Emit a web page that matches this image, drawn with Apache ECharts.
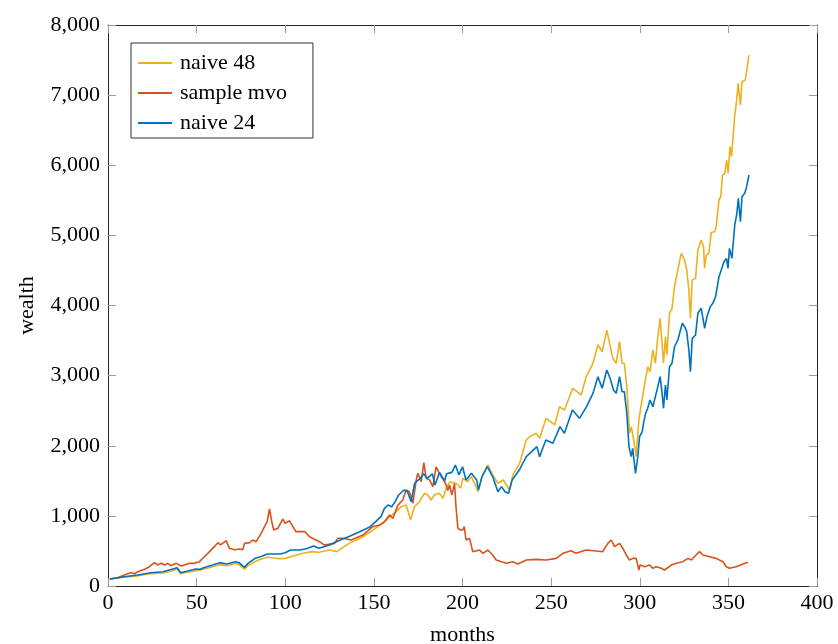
<!DOCTYPE html>
<html>
<head>
<meta charset="utf-8">
<script src="https://cdn.jsdelivr.net/npm/echarts@6/dist/echarts.min.js"></script>
<style>
html,body{margin:0;padding:0;background:#fff;}
#chart{width:838px;height:644px;}
</style>
</head>
<body>
<div id="chart"></div>
<script>
// ---- data ----
var seriesNames = ['naive 48', 'sample mvo', 'naive 24'];
var xTicks = [0, 50, 100, 150, 200, 250, 300, 350, 400];
var yTicks = [0, 1000, 2000, 3000, 4000, 5000, 6000, 7000, 8000];

var naive48Months = [1,9,17,24,31,36,39,41,45,49,54,59,63,67,72,74,77,79,83,86,90,94,97,100,105,110,115,119,125,129,136,144,149,155,159,162.6,165.4,168.2,170.7,172.9,175.7,178.5,180.4,182.3,184.2,187,189,190.8,192.7,194.5,197,199,200.2,203,204.9,207.7,208.6,211,214.3,217,220,223,226.5,228.4,232.2,236,237.9,241.6,243.5,247.2,252,254.7,257.5,262.2,266.9,269.8,273.6,276.4,278.8,281.4,283,284.8,286.7,288.6,290,291.3,292.7,294.2,295.2,296.6,298,299.5,300.8,301.7,302.7,304.5,305.8,307.4,308.8,310.2,311.5,313.4,314.5,315.3,316.8,318.2,319.6,321.5,323.4,325.3,326.5,327.7,328.6,329.6,331.5,332.8,334.7,336,336.6,337.5,339,340.3,342.2,343.1,344.7,345.7,346.7,348,349,349.9,350.9,351.8,352.8,353.6,354.6,355.5,356.8,357.7,359.5,360.4,361.6];
var naive48Values = [100,125,145,175,185,215,240,175,195,215,240,275,305,290,320,305,238,290,350,380,410,400,390,394,430,466,490,480,513,490,608,703,789,894,989,1060,1131,1155,941,1131,1202,1322,1298,1226,1300,1322,1250,1393,1480,1480,1450,1393,1536,1488,1560,1417,1345,1560,1725,1584,1465,1512,1369,1584,1750,2082,2130,2177,2106,2391,2296,2557,2510,2819,2724,2985,3176,3440,3341,3650,3460,3247,3176,3484,3176,3176,2843,2177,2272,2082,1844,2367,2581,2605,2866,3127,3056,3366,3176,3555,3817,3176,3555,3294,3889,3960,4268,4506,4744,4649,4506,4221,3817,4364,4387,4791,4934,4839,4530,4720,4744,5040,5053,5124,5505,5552,5861,5885,6075,5885,6265,6122,6455,6716,6906,7168,6859,7191,7215,7358,7572];

var mvoMonths = [1,5.5,10.3,13,15,16.8,20.6,23.4,26.2,28,30,32,33.6,35.5,38.5,41.3,43,46,48.6,51.6,53.5,56.3,60,62,63.5,66.7,68.5,71.4,74.2,76,77,79.9,81.7,83.6,86.4,88.3,89.8,91.1,92.4,93.5,95.8,98.6,100,102.4,106,111,113.7,119.3,122,127.8,129.7,132.5,137.2,143.8,149.4,153.2,156,158.8,160.7,163.5,166.3,168.2,170,172,173.9,174.8,176.7,178.2,179.5,181.4,183.3,185.1,187,188,189.8,190.8,191.7,192.7,194,195.5,196.4,197.4,198.8,200.2,201,202,204,205.8,209.6,211.5,214.3,217,219,224.7,228.4,231.2,236,241.6,247.2,252.9,256.6,261.3,264,269.8,275.4,279,282,283.9,285.8,288.6,290.5,292.4,294.2,296.1,298,299.5,300.2,302.7,305.6,307.4,309.3,312.1,314,317.8,320.6,324.3,327.2,329.1,331.8,333.7,335.6,339.4,343.1,346.9,348.8,350.6,354.4,358.2,361];
var mvoValues = [100,118,166,190,175,204,238,275,333,300,323,300,323,290,323,285,300,323,323,347,395,466,561,618,585,646,537,518,527,518,608,618,656,632,751,846,917,1100,917,799,822,955,894,930,775,775,703,632,585,608,680,680,656,727,846,870,917,1012,965,1150,1226,1369,1345,1179,1512,1607,1488,1760,1536,1512,1417,1700,1607,1560,1488,1441,1360,1440,1298,1460,1108,822,799,799,846,656,680,489,513,466,513,442,371,323,347,314,371,380,371,394,466,503,466,513,500,489,608,656,561,608,537,442,371,394,394,228,299,275,299,252,275,252,228,299,323,347,394,371,442,490,442,418,394,347,275,252,275,314,338];

var naive24Months = [1,9,17,24,31,36,39,41,45,49,52,54,59,63,67,72,74,77,79,83,86,90,94,97,100,103,108,112,116,119,125,131,136,142,148,151,154,156,158,160,162,164,167,169,171,173,176,178,180,183,184.5,187,190,191,194,196,198,200,202,205,208,209,211,214,217,220,222,224,226,228,232,236,242,243.5,247,251,255,257.5,262,266,270,273.6,276.4,278.8,281.4,283.3,285.2,286.7,288.6,290,291.3,292.7,293.9,295.2,296,297.6,298.9,299.9,301.4,302.3,303.3,304.5,305.8,307.4,308.8,310.2,311.5,312.6,313.4,314.5,315.3,316.8,318.2,319.6,321.5,324,325.3,326.5,327.7,328.6,329.6,331.5,332.8,334.7,335.6,336.6,337.9,339.8,341.2,342.8,344.7,345.7,347.5,348.9,349.8,350.6,352,353.6,354.8,355.6,356.8,357.7,359.2,360.1,361.6];
var naive24Values = [100,133,157,190,204,238,261,190,214,240,238,260,299,333,314,347,333,266,323,395,418,456,456,456,475,513,513,530,570,537,585,656,705,775,846,917,989,1108,1155,1131,1202,1298,1369,1345,1202,1465,1530,1600,1536,1600,1440,1620,1500,1600,1620,1725,1584,1701,1512,1607,1512,1369,1560,1701,1560,1345,1417,1345,1322,1512,1654,1844,1987,1844,2082,2035,2272,2177,2510,2391,2557,2747,2985,2819,3080,2961,2795,2747,2985,2771,2771,2462,1987,1844,1963,1607,1844,2130,2201,2343,2462,2534,2653,2557,2700,2843,2985,2747,2534,2866,2653,3127,3176,3412,3508,3746,3698,3627,3366,3056,3532,3580,3889,3960,3936,3675,3841,3984,4031,4126,4411,4483,4625,4672,4530,4815,4672,5148,5315,5529,5195,5552,5600,5671,5861];

var colors = ['#EDB120', '#D95319', '#0072BD'];

function pairs(xs, ys) {
  var out = [];
  for (var i = 0; i < xs.length; i++) out.push([xs[i], ys[i]]);
  return out;
}

var FONT = 'Liberation Serif';
var chart = echarts.init(document.getElementById('chart'), null, {renderer: 'canvas'});
var axisLineStyle = {color: '#262626', width: 1};
var tickStyle = {color: '#9a9a9a', width: 1};

var option = {
  animation: false,
  backgroundColor: '#ffffff',
  grid: {left: 108, right: 21, top: 25, bottom: 58, containLabel: false, outerBoundsMode: 'none'},
  legend: {
    orient: 'vertical',
    left: 131, top: 43,
    data: seriesNames,
    icon: 'rect',
    itemWidth: 34, itemHeight: 2,
    itemGap: 8,
    padding: [9, 26, 4, 7],
    borderColor: '#333', borderWidth: 1, backgroundColor: '#fff',
    textStyle: {fontFamily: FONT, fontSize: 22, color: '#000', padding: [0, 0, 0, 3]}
  },
  xAxis: [{
    type: 'value', min: xTicks[0], max: xTicks[xTicks.length - 1], interval: 50,
    position: 'bottom',
    name: 'months', nameLocation: 'middle', nameGap: 38,
    nameTextStyle: {fontFamily: FONT, fontSize: 22, color: '#000'},
    axisLine: {show: true, onZero: false, lineStyle: axisLineStyle},
    axisTick: {show: true, inside: true, length: 8, lineStyle: tickStyle},
    axisLabel: {fontFamily: FONT, fontSize: 22, color: '#000', margin: 6},
    splitLine: {show: false}
  }, {
    type: 'value', min: 0, max: 400, interval: 50, position: 'top',
    axisLine: {show: true, onZero: false, lineStyle: axisLineStyle},
    axisTick: {show: true, inside: true, length: 8, lineStyle: tickStyle},
    axisLabel: {show: false}, splitLine: {show: false}
  }],
  yAxis: [{
    type: 'value', min: yTicks[0], max: yTicks[yTicks.length - 1], interval: 1000,
    position: 'left',
    name: 'wealth', nameLocation: 'middle', nameGap: 70,
    nameTextStyle: {fontFamily: FONT, fontSize: 22, color: '#000'},
    axisLine: {show: true, onZero: false, lineStyle: axisLineStyle},
    axisTick: {show: true, inside: true, length: 8, lineStyle: tickStyle},
    axisLabel: {fontFamily: FONT, fontSize: 22, color: '#000', margin: 8,
      formatter: function (v) { return v.toLocaleString('en-US'); }},
    splitLine: {show: false}
  }, {
    type: 'value', min: 0, max: 8000, interval: 1000, position: 'right',
    axisLine: {show: true, onZero: false, lineStyle: axisLineStyle},
    axisTick: {show: true, inside: true, length: 8, lineStyle: tickStyle},
    axisLabel: {show: false}, splitLine: {show: false}
  }],
  series: [
    {name: seriesNames[0], type: 'line', data: pairs(naive48Months, naive48Values), showSymbol: false, symbol: 'none',
      lineStyle: {color: colors[0], width: 1.6}, itemStyle: {color: colors[0]}, z: 2},
    {name: seriesNames[1], type: 'line', data: pairs(mvoMonths, mvoValues), showSymbol: false, symbol: 'none',
      lineStyle: {color: colors[1], width: 1.6}, itemStyle: {color: colors[1]}, z: 3},
    {name: seriesNames[2], type: 'line', data: pairs(naive24Months, naive24Values), showSymbol: false, symbol: 'none',
      lineStyle: {color: colors[2], width: 1.6}, itemStyle: {color: colors[2]}, z: 4}
  ]
};
chart.setOption(option);
</script>
</body>
</html>
